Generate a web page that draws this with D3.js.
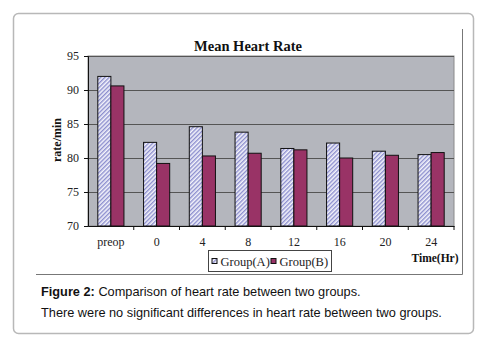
<!DOCTYPE html>
<html>
<head>
<meta charset="utf-8">
<script src="https://cdn.jsdelivr.net/npm/d3@7"></script>
<style>
  body { margin: 0; background: #fff; }
  svg { display: block; }
  .tick text { font-family: "Liberation Serif", serif; font-size: 12px; fill: #222; }
</style>
</head>
<body>
<svg width="482" height="345"></svg>
<script>
const svg = d3.select('svg');

// data
const categories = ['preop', '0', '4', '8', '12', '16', '20', '24'];
const groupA = [92.0, 82.3, 84.6, 83.8, 81.4, 82.2, 81.0, 80.5];
const groupB = [90.6, 79.2, 80.3, 80.7, 81.2, 80.0, 80.4, 80.8];
const yTicks = [70, 75, 80, 85, 90, 95];
const seriesNames = ['Group(A)', 'Group(B)'];

const plot = {left: 88, right: 454, top: 56, bottom: 226};

// outer card
svg.append('rect')
  .attr('x', 13.5).attr('y', 13.5)
  .attr('width', 460).attr('height', 320)
  .attr('rx', 5)
  .attr('fill', '#fff')
  .attr('stroke', '#b8b8b8')
  .attr('stroke-width', 1.5);

// chart frame (right and bottom edges only)
svg.append('path')
  .attr('d', 'M462.5,29 V274.5 H36')
  .attr('fill', 'none')
  .attr('stroke', '#777')
  .attr('stroke-width', 1);

// hatch pattern for group A
const defs = svg.append('defs');
const pat = defs.append('pattern')
  .attr('id', 'hatch')
  .attr('patternUnits', 'userSpaceOnUse')
  .attr('width', 3).attr('height', 3)
  .attr('patternTransform', 'rotate(45)');
pat.append('rect').attr('width', 3).attr('height', 3).attr('fill', '#f4f4fb');
pat.append('rect').attr('width', 1.4).attr('height', 3).attr('fill', '#8c8ece');

const xScale = d3.scaleBand()
  .domain(categories)
  .range([plot.left, plot.right]);

const xSub = d3.scaleBand()
  .domain(seriesNames)
  .range([0, xScale.bandwidth()])
  .paddingOuter(0.75);

const yScale = d3.scaleLinear()
  .domain([70, 95])
  .range([plot.bottom, plot.top]);

// plot background
svg.append('rect')
  .attr('x', plot.left).attr('y', plot.top)
  .attr('width', plot.right - plot.left)
  .attr('height', plot.bottom - plot.top)
  .attr('fill', '#b4b6bd')
  .attr('stroke', '#8a8a8a')
  .attr('stroke-width', 1);

// gridlines
svg.append('g')
  .selectAll('line')
  .data(yTicks.slice(1))
  .enter().append('line')
  .attr('x1', plot.left).attr('x2', plot.right)
  .attr('y1', d => yScale(d) + 0.5).attr('y2', d => yScale(d) + 0.5)
  .attr('stroke', '#555')
  .attr('stroke-width', 1);

// bars
const rows = categories.map((c, i) => ({cat: c, values: [groupA[i], groupB[i]]}));
const fills = ['url(#hatch)', '#993366'];

const groups = svg.append('g')
  .selectAll('g')
  .data(rows)
  .enter().append('g')
  .attr('transform', d => `translate(${xScale(d.cat)},0)`);

groups.selectAll('rect')
  .data(d => d.values.map((v, j) => ({name: seriesNames[j], value: v, j})))
  .enter().append('rect')
  .attr('x', d => xSub(d.name))
  .attr('y', d => yScale(d.value))
  .attr('width', xSub.bandwidth())
  .attr('height', d => plot.bottom - yScale(d.value))
  .attr('fill', d => fills[d.j])
  .attr('stroke', '#111')
  .attr('stroke-width', 1);

// axes
const yAxis = d3.axisLeft(yScale)
  .tickValues(yTicks)
  .tickSize(4)
  .tickPadding(5);

const yAxisG = svg.append('g')
  .attr('transform', `translate(${plot.left},0)`)
  .call(yAxis);
yAxisG.select('.domain').attr('stroke', '#111');
yAxisG.selectAll('.tick line').attr('stroke', '#111');

const xAxis = d3.axisBottom(xScale)
  .tickSize(0)
  .tickPadding(11);

const xAxisG = svg.append('g')
  .attr('transform', `translate(0,${plot.bottom})`)
  .call(xAxis);
xAxisG.select('.domain').attr('stroke', '#111');

// category boundary ticks
svg.append('g')
  .selectAll('line')
  .data(categories.slice(1).concat(['end']))
  .enter().append('line')
  .attr('x1', d => d === 'end' ? plot.right : xScale(d))
  .attr('x2', d => d === 'end' ? plot.right : xScale(d))
  .attr('y1', plot.bottom)
  .attr('y2', plot.bottom + 4)
  .attr('stroke', '#111');

// title
svg.append('text')
  .attr('x', 248).attr('y', 51)
  .attr('text-anchor', 'middle')
  .attr('font-family', '"Liberation Serif", serif')
  .attr('font-weight', 'bold')
  .attr('font-size', 14.5)
  .attr('fill', '#111')
  .text('Mean Heart Rate');

// y label
svg.append('text')
  .attr('transform', 'translate(61,140) rotate(-90)')
  .attr('text-anchor', 'middle')
  .attr('font-family', '"Liberation Serif", serif')
  .attr('font-weight', 'bold')
  .attr('font-size', 12)
  .attr('fill', '#111')
  .text('rate/min');

// x label
svg.append('text')
  .attr('x', 435).attr('y', 262)
  .attr('text-anchor', 'middle')
  .attr('font-family', '"Liberation Serif", serif')
  .attr('font-weight', 'bold')
  .attr('font-size', 11.5)
  .attr('fill', '#111')
  .text('Time(Hr)');

// legend
const legend = svg.append('g').attr('transform', 'translate(208.5,250.5)');
legend.append('rect')
  .attr('width', 123).attr('height', 21)
  .attr('fill', '#fff')
  .attr('stroke', '#444');

const item = legend.selectAll('g.item')
  .data(seriesNames)
  .enter().append('g')
  .attr('class', 'item')
  .attr('transform', (d, i) => `translate(${3 + i * 59},0)`);

item.append('rect')
  .attr('x', 0.5).attr('y', 8)
  .attr('width', 5).attr('height', 5)
  .attr('fill', (d, i) => fills[i])
  .attr('stroke', '#111');

item.append('text')
  .attr('x', 9).attr('y', 15)
  .attr('font-family', '"Liberation Serif", serif')
  .attr('font-size', 12.5)
  .attr('fill', '#222')
  .text(d => d);

// caption
const cap1 = svg.append('text')
  .attr('x', 41).attr('y', 296)
  .attr('font-family', '"Liberation Sans", Arial, sans-serif')
  .attr('font-size', 12.75)
  .attr('fill', '#111');
cap1.append('tspan').attr('font-weight', 'bold').text('Figure 2:');
cap1.append('tspan').text(' Comparison of heart rate between two groups.');

svg.append('text')
  .attr('x', 41).attr('y', 317)
  .attr('font-family', '"Liberation Sans", Arial, sans-serif')
  .attr('font-size', 12.75)
  .attr('fill', '#111')
  .text('There were no significant differences in heart rate between two groups.');
</script>
</body>
</html>
